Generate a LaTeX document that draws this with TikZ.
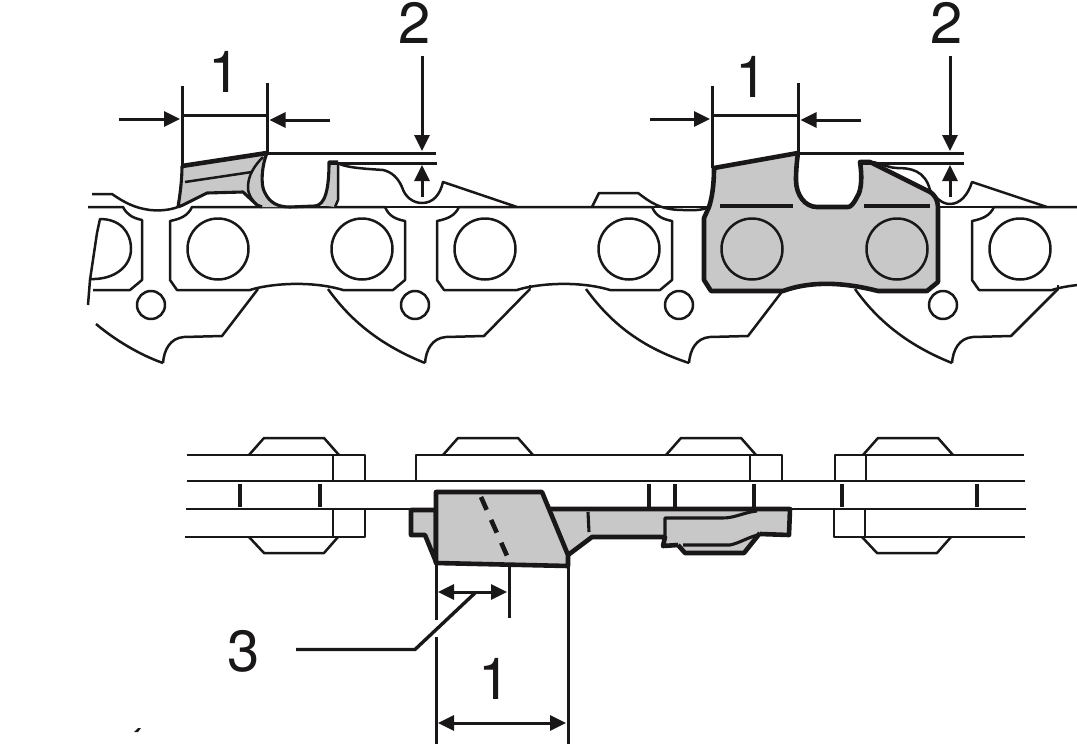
\documentclass[tikz,border=0pt]{standalone}
\usepackage{fontspec}
\setmainfont{TeX Gyre Heros}
\usetikzlibrary{arrows.meta}
\definecolor{ink}{HTML}{1A1718}
\definecolor{cutgray}{HTML}{C8C8C9}
\tikzset{
  thinline/.style={ink,line width=2.5pt,line join=round},
  railline/.style={ink,line width=2.8pt,line join=round},
  midline/.style={ink,line width=3.1pt,line join=round},
  thickline/.style={ink,line width=4.6pt,line join=round},
  dimline/.style={ink,line width=3pt},
  dimarrow/.style={ink,line width=3pt,-{Triangle[length=16pt,width=15pt]}},
  bothdim/.style={ink,line width=3pt,{Triangle[length=16pt,width=15pt]}-{Triangle[length=16pt,width=15pt]}},
  numlabel/.style={font=\fontsize{58}{58}\selectfont,text=ink,inner sep=0pt}
}
% side plate of the chain, left edge at x=170
\newcommand{\sideplate}[1]{
  \draw[thinline,xshift=#1] (192,207) .. controls (188,216) and (180,219) .. (170,221) -- (170,280) -- (177,290) -- (250,290)
    .. controls (268,284) and (310,280) .. (343,290) -- (393,290) -- (405,280) -- (405,221)
    .. controls (395,219) and (389,216) .. (385,207) -- cycle;
}
% lower end of a drive link
\newcommand{\toothend}[2]{
  \draw[thinline,xshift=#1] (425,363) .. controls (426,350) and (432,338) .. (446,337) -- (484,336) -- (#2,289);
}
\begin{document}
\begin{tikzpicture}[x=1pt,y=-1pt]
\clip (0,0) rectangle (1077,752);

% chain, side view
\draw[thinline] (88,207) -- (123,207) .. controls (127,215) and (133,218) .. (142,220) -- (142,280) -- (130,290) -- (93,290);
\draw[thinline] (88,305) -- (90,280) -- (97,233) -- (100,219) .. controls (120,219) and (131,232) .. (131,249) .. controls (131,266) and (115,280) .. (90,279);
\sideplate{0pt}
\sideplate{267pt}
\sideplate{802pt}
\draw[thinline] (192,207) -- (1077,207);
\foreach \px in {218,362,485,629,1020}
  \draw[thinline] (\px,249) circle (30.5pt);
\foreach \px in {151,415,679,943}
  \draw[thinline] (\px,305) circle (14pt);
\draw[thinline] (96,324) .. controls (115,340) and (140,355) .. (163,363);
\toothend{-262pt}{520}
\draw[thinline] (328,289) .. controls (350,320) and (380,345) .. (425,363);
\toothend{0pt}{530}
\draw[thinline] (530,289) -- (530,285);
\draw[thinline,xshift=258pt] (328,289) .. controls (352,322) and (382,347) .. (431,363);
\toothend{264pt}{520}
\draw[thinline,xshift=527pt] (328,289) .. controls (350,320) and (380,345) .. (425,363);
\toothend{527pt}{531}
\draw[thinline] (1058,290) -- (1058,285);
\draw[thinline] (92,194) -- (112,194) .. controls (125,203) and (135,208) .. (150,210) .. controls (160,211) and (170,210) .. (178,207);
\draw[thinline] (592,207) -- (599,193) -- (638,193) .. controls (650,202) and (660,210) .. (683,210) .. controls (692,210) and (702,211) .. (708,207);
\draw[thinline] (338,163) .. controls (345,168) and (370,169) .. (383,170) .. controls (392,172) and (398,178) .. (402,187)
  .. controls (405,197) and (413,203) .. (422,203) .. controls (433,203) and (440,195) .. (443,182) -- (517,207);
\draw[thinline] (873,162) .. controls (885,165) and (890,168) .. (897,168) .. controls (910,168) and (925,170) .. (930,190)
  .. controls (936,198) and (942,204) .. (950,204) .. controls (960,204) and (968,195) .. (972,182) -- (1047,207);

% first cutter, shaded
\fill[cutgray] (182,166) -- (267,153) -- (262,173) .. controls (262,190) and (268,203) .. (283,207) -- (262,207) -- (243,192) -- (207,193) -- (183,205) -- (178,207) -- cycle;
\fill[cutgray] (320,205) .. controls (326,198) and (329,180) .. (329,162) -- (338,162) -- (338,200) -- (335,207) -- cycle;
\draw[midline] (182,166) .. controls (182,180) and (180,195) .. (178,207);
\draw[midline] (178,207) -- (183,205) -- (207,193) -- (243,192) -- (257,205) -- (262,207);
\draw[thinline] (185,182) -- (252,172);
\draw[thinline] (263,157) .. controls (255,165) and (248,175) .. (248,187) .. controls (248,195) and (252,200) .. (258,206);
\draw[midline] (267,153) .. controls (262,165) and (260,185) .. (265,193) .. controls (270,203) and (278,207) .. (290,207) -- (315,206) .. controls (325,205) and (329,190) .. (329,162) -- (338,162);
\draw[thinline] (338,163) -- (338,200) -- (335,207);
\draw[thickline] (182,166) -- (267,153);

% second cutter, shaded
\filldraw[thickline,fill=cutgray] (714,168) .. controls (714,185) and (712,198) .. (709,207) -- (704,218) -- (704,280) -- (711,291) -- (783,291)
  .. controls (805,283) and (835,280) .. (878,291) -- (927,291) -- (938,282) -- (938,207) .. controls (938,200) and (934,194) .. (930,192)
  -- (870,162) -- (860,162) .. controls (862,175) and (862,190) .. (857,197) .. controls (854,203) and (851,207) .. (848,207) -- (817,207)
  .. controls (805,207) and (796,195) .. (796,180) .. controls (796,170) and (797,160) .. (798,153) -- cycle;
\draw[thinline] (752,249) circle (30.5pt);
\draw[thinline] (897,249) circle (30.5pt);
\draw[midline] (720,206) -- (793,206);
\draw[midline] (864,206) -- (930,206);

% top dimensions
\node[numlabel] (pitchA) at (225,72) {1};
\node[numlabel] (depthA) at (415,23) {2};
\node[numlabel] (pitchB) at (752,77) {1};
\node[numlabel] (depthB) at (947,23) {2};
\coordinate (pa1) at (182,86);
\coordinate (pa2) at (182,166);
\coordinate (pa3) at (267,83);
\coordinate (pa4) at (267,153);
\draw[dimline] (pa1) -- (pa2);
\draw[dimline] (pa3) -- (pa4);
\draw[dimline] (182,115.5) -- (267,115.5);
\draw[dimarrow] (119,119) -- (180,119);
\draw[dimarrow] (330,120) -- (269.5,120);
\draw[dimline] (267,153) -- (436,153);
\draw[dimline] (329,163) -- (437,163);
\draw[dimarrow] (422,56) -- (422,151);
\draw[dimarrow] (422,197) -- (422,165);
\coordinate (pb1) at (712,86);
\coordinate (pb2) at (712,168);
\coordinate (pb3) at (798,83);
\coordinate (pb4) at (798,153);
\draw[dimline] (pb1) -- (pb2);
\draw[dimline] (pb3) -- (pb4);
\draw[dimline] (712,115.5) -- (798,115.5);
\draw[dimarrow] (650,119) -- (710,119);
\draw[dimarrow] (861,120) -- (800.5,120);
\draw[dimline] (798,153) -- (964,153);
\draw[dimline] (860,163) -- (964,163);
\draw[dimarrow] (950,56) -- (950,151);
\draw[dimarrow] (950,197) -- (950,165);

% chain, view from above
\draw[thinline] (187,455) -- (365,455) -- (365,481);
\draw[thinline] (416,481) -- (416,455) -- (782,455) -- (782,481);
\draw[thinline] (835,481) -- (835,455) -- (1024,455);
\draw[railline] (187,481) -- (1025,481);
\draw[railline] (186,509) -- (1026,509);
\draw[thinline] (185,537) -- (365,537) -- (365,509);
\draw[thinline] (834,509) -- (834,537) -- (1025,537);
\draw[thinline] (333,455) -- (333,481);
\draw[thinline] (333,509) -- (333,537);
\draw[thinline] (750,455) -- (750,481);
\draw[thinline] (866,455) -- (866,481);
\draw[thinline] (865,509) -- (865,537);
\foreach \bx in {0,194,417,614}
  \draw[thinline,xshift=\bx pt] (249,455) -- (264,438) -- (324,438) -- (339,455);
\draw[thinline] (249,537) -- (264,553) -- (324,553) -- (338,537);
\draw[thinline] (862,537) -- (877,553) -- (937,553) -- (951,537);
\foreach \vx in {320,675,754,842,977}
  \draw[midline] (\vx,484) -- (\vx,507);
\foreach \vx in {240,649}
  \draw[thickline] (\vx,484) -- (\vx,507);

% cutter from above
\filldraw[thickline,fill=cutgray] (411,510) -- (411,535) -- (425,535) -- (436,562) -- (436,510) -- cycle;
\fill[cutgray] (545,509) -- (790,509) -- (789,535) -- (760,534) -- (744,553) -- (685,553) -- (678,545) -- (663,546) -- (665,537) -- (592,537) -- (568,555) -- cycle;
\draw[thickline] (545,509) -- (790,509) -- (789,535) -- (760,534);
\draw[thickline] (568,555) -- (592,537) -- (665,537) -- (663,546) -- (678,545);
\draw[thickline] (678,545) -- (685,553) -- (744,553) -- (760,533);
\draw[midline] (665,535) -- (665,518) -- (723,518) .. controls (735,518) and (745,512) .. (757,511);
\draw[midline] (683,545) -- (730,545) .. controls (740,543) and (750,536) .. (762,534);
\draw[midline] (588,512) -- (589,532);
\filldraw[thickline,fill=cutgray] (436,492) -- (542,492) -- (568,555) -- (568,566) -- (436,563) -- cycle;
\draw[ink,line width=4.6pt,dash pattern=on 14pt off 11pt] (481,497) -- (508,558);

% lower dimensions
\node[numlabel] (pitchC) at (495,679) {1};
\node[numlabel] (gaugeC) at (244,651) {3};
\coordinate (ca1) at (436,563);
\coordinate (ca2) at (436,620);
\coordinate (ca3) at (436,637);
\coordinate (ca4) at (436,744);
\coordinate (cb1) at (568,566);
\coordinate (cb2) at (568,744);
\coordinate (cc1) at (509,566);
\coordinate (cc2) at (509,618);
\draw[dimline] (ca1) -- (ca2);
\draw[dimline] (ca3) -- (ca4);
\draw[dimline] (cb1) -- (cb2);
\draw[dimline] (cc1) -- (cc2);
\draw[bothdim] (438,592) -- (507,592);
\draw[bothdim] (438,723) -- (566,723);
\coordinate (lead1) at (296,649.5);
\coordinate (lead2) at (415,649.5);
\coordinate (lead3) at (475,593);
\draw[ink,line width=3.4pt] (lead1) -- (lead2) -- (lead3);
\fill[ink] (134,732) -- (138,728) -- (141,728) -- (138,732) -- cycle;
\end{tikzpicture}
\end{document}
